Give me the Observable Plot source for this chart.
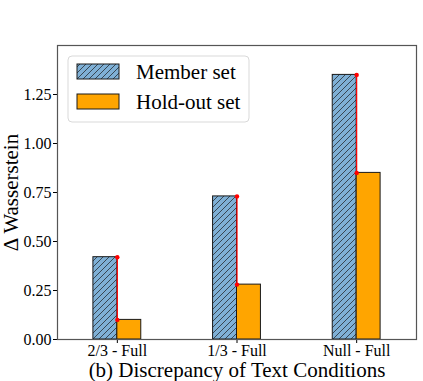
<!DOCTYPE html>
<html><head><meta charset="utf-8">
<script src="https://cdn.jsdelivr.net/npm/d3@7"></script>
<script src="https://cdn.jsdelivr.net/npm/@observablehq/plot@0.6"></script>
<style>
body{margin:0;background:#fff;}
svg, svg text{font-family:"Liberation Serif","Times New Roman",serif !important;}
</style>
</head><body>
<div id="chart"></div>
<script>
const categories = ["2/3 - Full", "1/3 - Full", "Null - Full"];
const memberValues = [0.42, 0.73, 1.35];
const holdoutValues = [0.10, 0.28, 0.85];
const yTicks = [0, 0.25, 0.5, 0.75, 1.0, 1.25];
const seriesNames = ["Member set", "Hold-out set"];
const yLabel = "Δ Wasserstein";
const xLabel = "(b) Discrepancy of Text Conditions";

const barW = 0.2;
const member = categories.map((c, i) => ({i, c, v: memberValues[i]}));
const holdout = categories.map((c, i) => ({i, c, v: holdoutValues[i]}));
const gaps = categories.map((c, i) => ({i, top: memberValues[i], bot: holdoutValues[i]}));

const blue = "#7fb0d6";
const orange = "#ffa500";
const serif = '"Liberation Serif", "Times New Roman", serif';

const plot = Plot.plot({
  width: 423,
  height: 381,
  marginLeft: 57,
  marginRight: 7,
  marginTop: 45,
  marginBottom: 42,
  style: {fontFamily: serif, fontSize: "16px", color: "#000", background: "#fff"},
  x: {domain: [-0.5, 2.5]},
  y: {domain: [0, 1.5]},
  marks: [
    Plot.rectY(member, {x1: d => d.i - barW, x2: d => d.i, y1: 0, y2: "v", fill: blue}),
    Plot.rectY(member, {x1: d => d.i - barW, x2: d => d.i, y1: 0, y2: "v", fill: "url(#hatch)", stroke: "#1a1a1a", strokeWidth: 1}),
    Plot.rectY(holdout, {x1: "i", x2: d => d.i + barW, y1: 0, y2: "v", fill: orange, stroke: "#1a1a1a", strokeWidth: 1}),
    Plot.link(gaps, {x1: "i", x2: "i", y1: "bot", y2: "top", stroke: "red", strokeWidth: 1.2}),
    Plot.dot(gaps, {x: "i", y: "top", r: 2.2, fill: "red"}),
    Plot.dot(gaps, {x: "i", y: "bot", r: 2.2, fill: "red"}),
    Plot.axisY({ticks: yTicks, tickFormat: d => d.toFixed(2), tickSize: 4, tickPadding: 2, label: null, fontSize: 16}),
    Plot.axisX({ticks: [0, 1, 2], tickFormat: i => categories[i], tickSize: 4, tickPadding: 1, label: null, fontSize: 16}),
    Plot.frame({stroke: "#555", strokeWidth: 1.2}),
    Plot.text([xLabel], {frameAnchor: "bottom", lineAnchor: "middle", textAnchor: "middle", dy: 31, fontSize: 21, fill: "#000"}),
    Plot.text([yLabel], {frameAnchor: "left", textAnchor: "middle", lineAnchor: "middle", dx: -46, rotate: -90, fontSize: 21, fill: "#000"})
  ]
});

document.getElementById("chart").appendChild(plot);

// hatch pattern + legend
const svg = d3.select(plot);
const defs = svg.insert("defs", ":first-child");
const pat = defs.append("pattern").attr("id", "hatch").attr("patternUnits", "userSpaceOnUse")
  .attr("width", 6).attr("height", 6);
pat.append("path").attr("d", "M-1,1 l2,-2 M0,6 l6,-6 M5,7 l2,-2")
  .attr("stroke", "#1a1a1a").attr("stroke-width", 0.7);

const lg = svg.append("g").attr("text-anchor", "start");
lg.append("rect").attr("x", 68).attr("y", 56).attr("width", 181).attr("height", 66)
  .attr("rx", 4).attr("fill", "rgba(255,255,255,0.8)").attr("stroke", "#d9d9d9");
const patches = [{fill: blue, hatch: true}, {fill: orange, hatch: false}];
patches.forEach((p, k) => {
  const y = 64 + k * 30;
  lg.append("rect").attr("x", 77).attr("y", y).attr("width", 42).attr("height", 15).attr("fill", p.fill);
  lg.append("rect").attr("x", 77).attr("y", y).attr("width", 42).attr("height", 15)
    .attr("fill", p.hatch ? "url(#hatch)" : "none").attr("stroke", "#1a1a1a").attr("stroke-width", 1);
  lg.append("text").attr("x", 136).attr("y", y + 7.5).attr("dy", "0.35em")
    .attr("font-size", 21).attr("fill", "#000").text(seriesNames[k]);
});
</script>
</body></html>
